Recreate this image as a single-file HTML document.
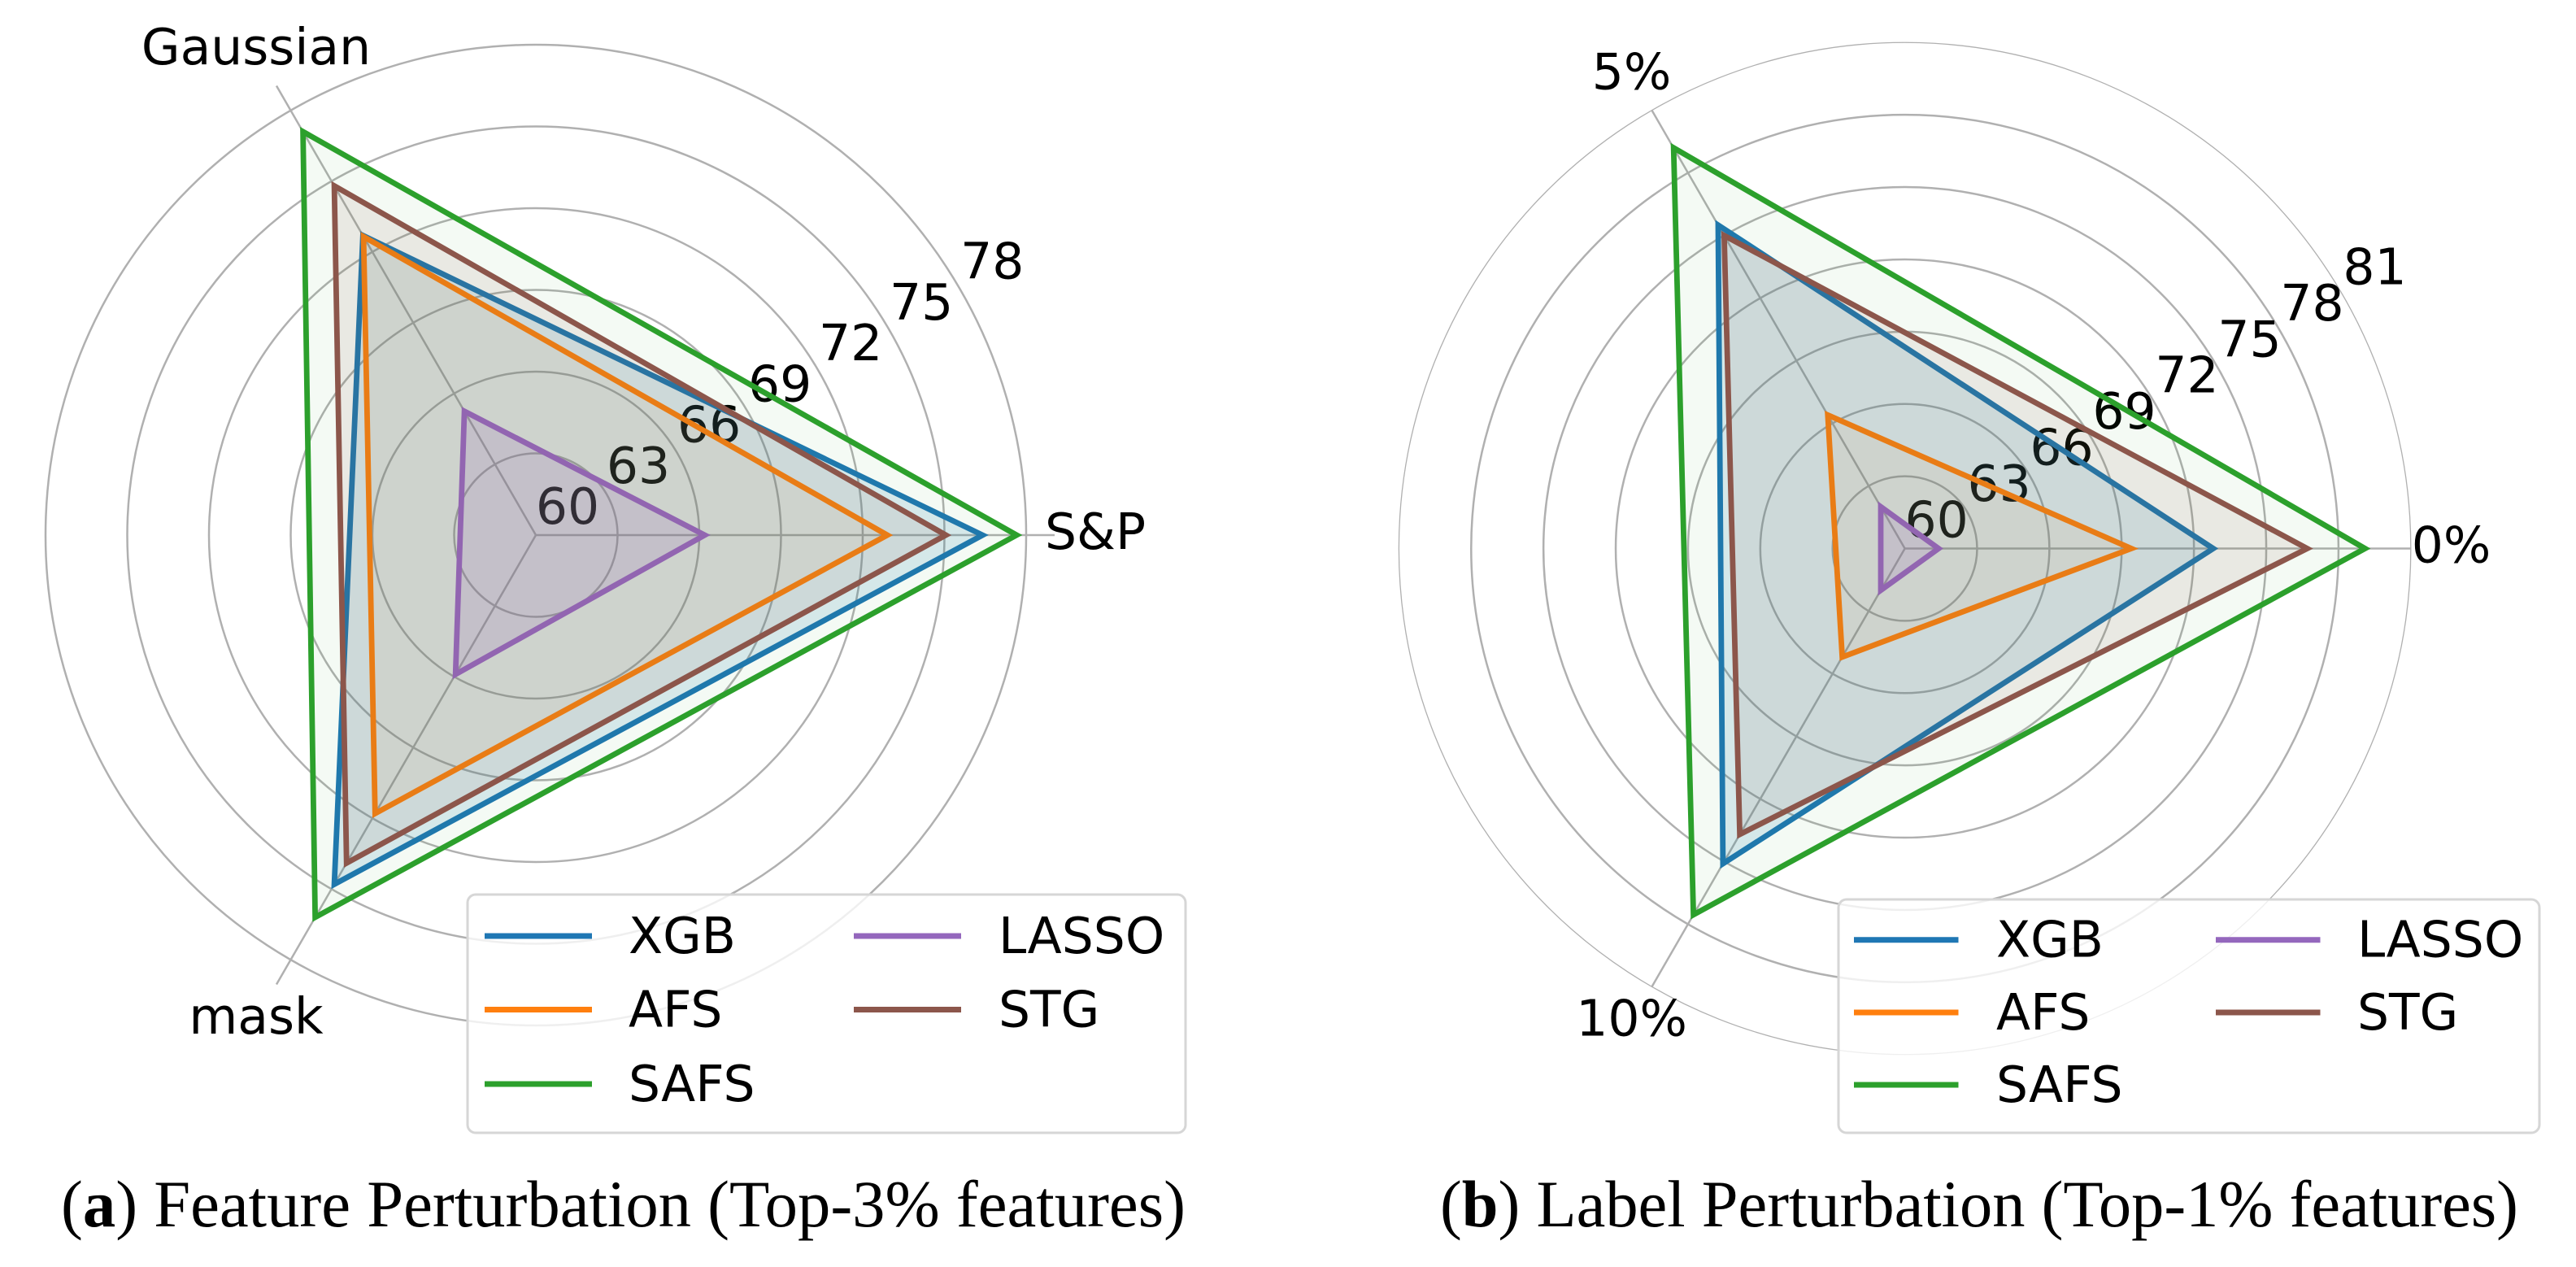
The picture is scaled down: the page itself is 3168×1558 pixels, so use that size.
<!DOCTYPE html>
<html lang="en">
<head>
<meta charset="utf-8">
<title>Radar charts: Feature and Label Perturbation</title>
<style>
html,body{margin:0;padding:0;background:#fff;}
svg{display:block;}
text{font-family:"DejaVu Sans","Liberation Sans",sans-serif;font-size:61.5px;fill:#000;}
text.caption{font-family:"Liberation Serif",serif;font-size:82px;}
</style>
</head>
<body>
<svg id="figure" xmlns="http://www.w3.org/2000/svg" width="3168" height="1558" viewBox="0 0 3168 1558">
  <rect x="0" y="0" width="3168" height="1558" fill="#ffffff"/>
  <g id="panel-a"></g>
  <g id="panel-b"></g>
  <text class="caption" x="75" y="1508" textLength="1383" lengthAdjust="spacingAndGlyphs">(<tspan font-weight="bold">a</tspan>) Feature Perturbation (Top-3% features)</text>
  <text class="caption" x="1771" y="1508" textLength="1326" lengthAdjust="spacingAndGlyphs">(<tspan font-weight="bold">b</tspan>) Label Perturbation (Top-1% features)</text>
</svg>
<script>
// Series names, shared by both panels
const seriesNames = ['XGB', 'AFS', 'SAFS', 'LASSO', 'STG'];

// Panel (a): Feature Perturbation
const categoriesA = ['S&P', 'Gaussian', 'mask'];
const ticksA = [60, 63, 66, 69, 72, 75, 78];
const xgbA = [76.4, 72.7, 74.8];
const afsA = [72.9, 72.65, 71.8];
const safsA = [77.65, 77.1, 76.2];
const lassoA = [66.2, 65.25, 65.9];
const stgA = [75.05, 74.8, 73.9];

// Panel (b): Label Perturbation
const categoriesB = ['0%', '5%', '10%'];
const ticksB = [60, 63, 66, 69, 72, 75, 78, 81];
const xgbB = [72.8, 75.5, 75.1];
const afsB = [69.4, 66.4, 65.2];
const safsB = [79.1, 79.2, 77.55];
const lassoB = [61.4, 62.0, 62.0];
const stgB = [76.7, 75.0, 73.7];

const SVG_NS = 'http://www.w3.org/2000/svg';
const colors = {XGB: '#1f77b4', AFS: '#ff7f0e', SAFS: '#2ca02c', LASSO: '#9467bd', STG: '#8c564b'};
const fillAlpha = {XGB: 0.14, AFS: 0.06, SAFS: 0.05, LASSO: 0.17, STG: 0.1};
const GRID = '#b0b0b0';

function make(parent, tag, props) {
  const el = document.createElementNS(SVG_NS, tag);
  for (const k in props) el.setAttribute(k, props[k]);
  parent.appendChild(el);
  return el;
}

function drawPanel(group, layout, categories, ticks, seriesValues) {
  const rMin = ticks[0];
  const rMax = ticks[ticks.length - 1];
  const rScale = function (v) { return (v - rMin) * layout.unit; };
  const angleOf = function (i) { return i * 2 * Math.PI / categories.length; };
  const px = function (i, r) { return layout.cx + r * Math.cos(angleOf(i)); };
  const py = function (i, r) { return layout.cy - r * Math.sin(angleOf(i)); };

  // Rings
  ticks.forEach(function (t) {
    if (t === rMin) return;
    const ring = make(group, 'circle', {
      cx: layout.cx, cy: layout.cy, r: rScale(t), fill: 'none', stroke: GRID,
      'stroke-width': (layout.clipOuter && t === rMax) ? 1.3 : 2.5
    });
    
    
  });

  // Spokes
  categories.forEach(function (c, i) {
    const spoke = make(group, 'line', {
      x1: layout.cx, y1: layout.cy, x2: px(i, layout.spokeR), y2: py(i, layout.spokeR),
      stroke: GRID, 'stroke-width': 2.5
    });
    
    

    const label = make(group, 'text', {
      x: px(i, layout.spokeR + 50), y: py(i, layout.spokeR + 50) + 17, 'text-anchor': 'middle'
    });
    label.textContent = c;
    
    
  });

  // Radial tick labels
  ticks.forEach(function (t) {
    const r = rScale(t);
    const tick = make(group, 'text', {
      x: layout.cx + 39 + r * Math.cos(Math.PI / 6),
      y: layout.cy - 36 - r * Math.sin(Math.PI / 6) + 22,
      'text-anchor': 'middle'
    });
    tick.textContent = String(t);
    
    
  });

  // Series polygons
  seriesNames.forEach(function (name, s) {
    const values = seriesValues[s];
    const pts = values.map(function (v, i) {
      return px(i, rScale(v)).toFixed(1) + ',' + py(i, rScale(v)).toFixed(1);
    }).join(' ');
    const poly = make(group, 'polygon', {
      points: pts, fill: colors[name], 'fill-opacity': fillAlpha[name],
      stroke: colors[name], 'stroke-width': 6.8,
      'stroke-linejoin': 'miter', 'stroke-miterlimit': 10
    });
    
    
  });

  // Legend
  const L = layout.legend;
  const box = make(group, 'rect', {
    x: L.x, y: L.y, width: L.w, height: L.h, rx: 10, ry: 10,
    fill: '#ffffff', 'fill-opacity': 0.8, stroke: '#d6d6d6', 'stroke-width': 3
  });
  
  

  seriesNames.forEach(function (name, s) {
    const col = s < 3 ? 0 : 1;
    const row = s < 3 ? s : s - 3;
    const handle = make(group, 'line', {
      x1: L.lineX[col], x2: L.lineX[col] + L.lineW,
      y1: L.rowY[row], y2: L.rowY[row],
      stroke: colors[name], 'stroke-width': 7
    });
    
    

    const entry = make(group, 'text', {x: L.textX[col], y: L.rowY[row] + 21});
    entry.textContent = name;
    
    
  });
}

drawPanel(document.getElementById('panel-a'), {
  cx: 659, cy: 658, unit: 33.5, spokeR: 638, clipOuter: false,
  legend: {x: 575, y: 1100, w: 883, h: 293, lineX: [596, 1050], lineW: 132, textX: [773, 1228], rowY: [1151, 1241.5, 1333]}
}, categoriesA, ticksA, [xgbA, afsA, safsA, lassoA, stgA]);

drawPanel(document.getElementById('panel-b'), {
  cx: 2342.6, cy: 674.5, unit: 29.63, spokeR: 622, clipOuter: true,
  legend: {x: 2261, y: 1106, w: 862, h: 287, lineX: [2280, 2725], lineW: 128.5, textX: [2455, 2899], rowY: [1155.7, 1245, 1334]}
}, categoriesB, ticksB, [xgbB, afsB, safsB, lassoB, stgB]);
</script>
</body>
</html>
